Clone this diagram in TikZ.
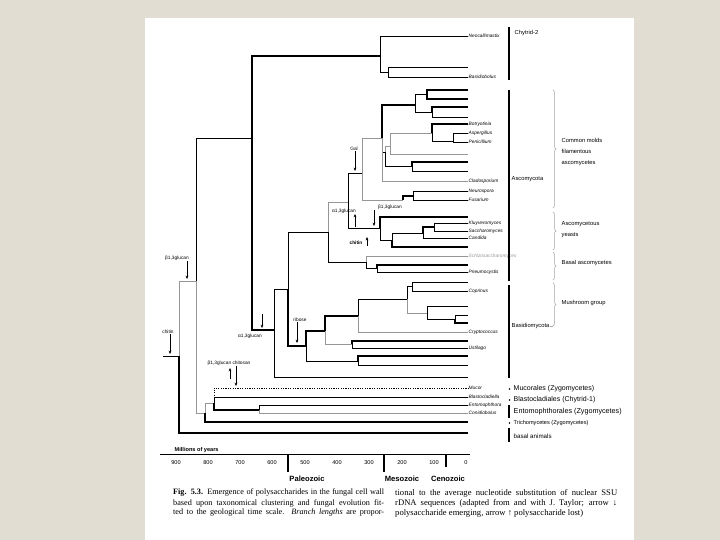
\documentclass[tikz,border=0pt]{standalone}
\usepackage{fontspec}
\setmainfont{Liberation Serif}
\setsansfont{Liberation Sans}
\usetikzlibrary{arrows.meta,decorations.pathreplacing}
\definecolor{linen}{RGB}{226,221,211}
\definecolor{treegrey}{RGB}{150,150,150}
\definecolor{bracegrey}{RGB}{165,165,165}

\begin{document}
\begin{tikzpicture}[x=1pt,y=-1pt]
		\useasboundingbox (0,0) rectangle (720,540);
		\fill[linen] (0,0) rectangle (720,540);
		\fill[white] (145,18) rectangle (634,540);

		\begin{scope}
			[
				leaf/.style={anchor=west, inner sep=0.5pt,
					font=\sffamily\itshape\fontsize{4.8}{5}\selectfont},
				ps/.style={inner sep=0.5pt, font=\sffamily\fontsize{4.8}{5}\selectfont},
				grp/.style={anchor=west, inner sep=0.5pt, align=left,
					font=\sffamily\fontsize{5.8}{11}\selectfont},
				low/.style={anchor=west, inner sep=0.5pt,
					font=\sffamily\fontsize{#1}{#1}\selectfont},
				captxt/.style={anchor=west, inner sep=0pt,
					font=\fontsize{#1}{9}\selectfont},
			]
			% tree: internal nodes sit on their stem
			\coordinate (rs) at (163,356);
			\coordinate (root) at (179,356);
			\coordinate (fungi) at (196,281);
			\coordinate (anim) at (468,433);
			\coordinate (dikar) at (252,138);
			\coordinate (zygo) at (205,413);

			\coordinate (chyt) at (380,56);
			\node(neo)[leaf] at (468,36) {Neocallimastix};
			\coordinate (basb) at (388,72);
			\coordinate (ch1) at (468,67);
			\node(bsb)[leaf] at (468,77) {Basidiobolus};

			\coordinate (asba) at (274,330);
			\coordinate (ab) at (288,289);
			\coordinate (lx) at (468,377);
			\coordinate (asco) at (328,232);
			\coordinate (basi) at (306,346);

			\coordinate (pez) at (348,202);
			\coordinate (tap) at (366,262);
			\coordinate (fil) at (362,173);
			\coordinate (yst) at (380,228);
			\coordinate (core) at (382,138);
			\coordinate (sordb) at (403,200);
			\coordinate (sord) at (413,196);
			\node(neu)[leaf] at (468,191) {Neurospora};
			\node(fus)[leaf] at (468,200) {Fusarium};

			\coordinate (c1) at (415,105);
			\coordinate (c1a) at (427,94);
			\coordinate (a1) at (468,90);
			\coordinate (a2) at (468,99);
			\coordinate (c1b) at (432,112);
			\coordinate (a3) at (468,107);
			\coordinate (a4) at (468,117);
			\coordinate (core2) at (385,152);
			\coordinate (c2) at (390,146);
			\coordinate (c2a) at (432,133);
			\node(bot)[leaf] at (468,124) {Botryotinia};
			\coordinate (c2b) at (453,141);
			\node(asp)[leaf] at (468,133) {Aspergillus};
			\node(pen)[leaf] at (468,142) {Penicillium};
			\coordinate (a5) at (468,154);
			\coordinate (c3) at (412,166);
			\coordinate (a6) at (468,162);
			\coordinate (a7) at (468,171);
			\node(cla)[leaf] at (468,181) {Cladosporium};

			\coordinate (a8) at (468,217);
			\coordinate (yst2) at (392,240);
			\coordinate (kl) at (423,233);
			\coordinate (ks) at (434,227);
			\node(klu)[leaf] at (468,223) {Kluyveromyces};
			\node(sac)[leaf] at (468,231) {Saccharomyces};
			\node(can)[leaf] at (468,238) {Candida};
			\coordinate (a9) at (468,247);

			\node(sch)[leaf, text=treegrey] at (468,256) {Schizosaccharomyces};
			\coordinate (tap2) at (377,268);
			\coordinate (a10) at (468,265);
			\node(pne)[leaf] at (468,272) {Pneumocystis};

			\coordinate (b1) at (325,331);
			\coordinate (b2) at (358,316);
			\coordinate (b3) at (407,299);
			\coordinate (b3a) at (412,286);
			\coordinate (a11) at (468,282);
			\node(cop)[leaf] at (468,291) {Coprinus};
			\coordinate (b3b) at (427,313);
			\coordinate (a12) at (468,306);
			\coordinate (b3c) at (455,319);
			\coordinate (a13) at (468,315);
			\coordinate (a14) at (468,323);
			\node(cry)[leaf] at (468,332) {Cryptococcus};
			\coordinate (b4) at (352,344);
			\coordinate (a15) at (468,341);
			\node(ust)[leaf] at (468,348) {Ustilago};
			\coordinate (b5) at (358,361);
			\coordinate (a16) at (468,356);
			\coordinate (a17) at (468,365);

			\coordinate (zyg1) at (214,403);
			\node(muc)[leaf] at (468,388) {Mucor};
			\node(bla)[leaf] at (468,397) {Blastocladiella};
			\coordinate (ento) at (259,410);
			\node(ent)[leaf] at (468,405) {Entomophthora};
			\node(con)[leaf] at (468,413) {Conidiobolus};
			\coordinate (tri) at (468,422);

			% polysaccharide marks
			\node(pb1)[ps] at (177,258) {β1,3glucan};
			\coordinate (pb1t) at (187,279);
			\node(pch)[ps] at (168,332) {chitin};
			\coordinate (pcht) at (170,354);
			\node(pa1)[ps] at (250,336) {α1,3glucan};
			\coordinate (pa1s) at (262,314);
			\coordinate (pa1t) at (262,328);
			\node(prb)[ps] at (300,320) {ribose};
			\coordinate (prbt) at (297,343);
			\node(pgal)[ps] at (354,149) {Gal};
			\coordinate (pgalt) at (355,171);
			\node(pa2)[ps, fill=white] at (344,211) {α1,3glucan};
			\coordinate (pa2s) at (355,227);
			\node(pb2)[ps] at (390,207) {β1,3glucan};
			\coordinate (pb2t) at (374,226);
			\node(pch2)[ps, font=\sffamily\bfseries\fontsize{4.8}{5}\selectfont] at (356,243) {chitin};
			\coordinate (pch2s) at (367,246);
			\coordinate (pch2t) at (367,237);
			\node(pgc)[ps] at (229,363) {β1,3glucan chitosan};
			\coordinate (pgcs) at (230,379);
			\coordinate (pgct) at (230,368);
			\coordinate (pgc2t) at (236,386);

			% groups on the right
			\node(gch2)[grp] at (514,33) {Chytrid-2};
			\node(gasc)[grp] at (511,179) {Ascomycota};
			\node(gbas)[grp] at (511,326) {Basidiomycota};
			\node(gmol)[grp] at (561,152) {Common molds\\filamentous\\ascomycetes};
			\node(gyst)[grp] at (561,230) {Ascomycetous\\yeasts};
			\node(gbal)[grp] at (561,263) {Basal ascomycetes};
			\node(gmsh)[grp] at (561,303) {Mushroom group};
			\coordinate (mshend) at (553,326);

			\node(gmuc)[low=7] at (513,389) {Mucorales (Zygomycetes)};
			\node(gbla)[low=7] at (513,400) {Blastocladiales (Chytrid-1)};
			\node(gent)[low=7.2] at (513,412) {Entomophthorales (Zygomycetes)};
			\node(gtri)[low=5.6] at (513,423) {Trichomycetes (Zygomycetes)};
			\node(gani)[low=6.2] at (513,436) {basal animals};

			% time scale
			\coordinate (t0) at (160,454);
			\coordinate (t1) at (470,454);
			\node(myr)[anchor=south west, inner sep=0.5pt,
				font=\sffamily\bfseries\fontsize{5.6}{6}\selectfont] at (174,453) {Millions of years};
			\node(y900)[low=5.6, anchor=center] at (176,463) {900};
			\node(y800)[low=5.6, anchor=center] at (208,463) {800};
			\node(y700)[low=5.6, anchor=center] at (240,463) {700};
			\node(y600)[low=5.6, anchor=center] at (272,463) {600};
			\node(y500)[low=5.6, anchor=center] at (305,463) {500};
			\node(y400)[low=5.6, anchor=center] at (337,463) {400};
			\node(y300)[low=5.6, anchor=center] at (369,463) {300};
			\node(y200)[low=5.6, anchor=center] at (402,463) {200};
			\node(y100)[low=5.6, anchor=center] at (434,463) {100};
			\node(y0)[low=5.6, anchor=center] at (466,463) {0};
			\node(pal)[anchor=center, font=\sffamily\bfseries\fontsize{7.6}{8}\selectfont] at (307,479) {Paleozoic};
			\node(mes)[anchor=center, font=\sffamily\bfseries\fontsize{7.6}{8}\selectfont] at (402,479) {Mesozoic};
			\node(cen)[anchor=center, font=\sffamily\bfseries\fontsize{7.6}{8}\selectfont] at (448,479) {Cenozoic};

			% caption
			\node(cap1)[captxt=8.2] at (173,493) {\makebox[211pt][s]{\textbf{Fig. 5.3.} Emergence of polysaccharides in the fungal cell wall}};
			\node(cap2)[captxt=8.2] at (173,503) {\makebox[211pt][s]{based upon taxonomical clustering and fungal evolution fit-}};
			\node(cap3)[captxt=8.2] at (173,513) {\makebox[211pt][s]{ted to the geological time scale. \textit{Branch lengths} are propor-}};
			\node(cap4)[captxt=8.6] at (395,493) {\makebox[222pt][s]{tional to the average nucleotide substitution of nuclear SSU}};
			\node(cap5)[captxt=8.6] at (395,503) {\makebox[222pt][s]{rDNA sequences (adapted from and with J. Taylor; arrow ↓}};
			\node(cap6)[captxt=8.6] at (395,513) {polysaccharide emerging, arrow ↑ polysaccharide lost)};
		\end{scope}

		\begin{scope}
			[
				elbow/.style={to path={|- (\tikztotarget)}},
				bra/.style={elbow, draw, line width=0.6pt},
				brk/.style={elbow, draw, line width=1.3pt},
				brg/.style={elbow, draw=treegrey, line width=0.6pt},
				brd/.style={elbow, draw, line width=0.6pt, dash pattern=on 1.2pt off 1.2pt},
				gain/.style={-{Stealth[length=3.4pt,width=2.8pt]}, line width=0.45pt},
				brc/.style={decorate, decoration={brace,amplitude=3pt}, draw=bracegrey, line width=0.5pt},
				sidebar/.style={line width=1.5pt},
			]
			\path
			(rs) edge[bra] (root)
			(root) edge[brg] (fungi)
			(root) edge[brk] (anim)
			(fungi) edge[bra] (dikar)
			(fungi) edge[brg] (zygo)
			(dikar) edge[brk] (chyt)
			(dikar) edge[brk] (asba)
			(chyt) edge[bra] (neo.west)
			(chyt) edge[bra] (basb)
			(basb) edge[bra] (ch1)
			(basb) edge[bra] (bsb.west)
			(asba) edge[bra] (ab)
			(asba) edge[bra] (lx)
			(ab) edge[bra] (asco)
			(ab) edge[brk] (basi)

			(asco) edge[brg] (pez)
			(asco) edge[bra] (tap)
			(pez) edge[bra] (fil)
			(pez) edge[bra] (yst)
			(fil) edge[brg] (core)
			(fil) edge[brg] (sordb)
			(sordb) edge[brk] (sord)
			(sord) edge[bra] (neu.west)
			(sord) edge[bra] (fus.west)
			(core) edge[brk] (c1)
			(core) edge[bra] (core2)
			(core) edge[brg] (cla.west)
			(core2) edge[brg] (c2)
			(core2) edge[bra] (c3)
			(c1) edge[bra] (c1a)
			(c1) edge[bra] (c1b)
			(c1a) edge[brk] (a1)
			(c1a) edge[brk] (a2)
			(c1b) edge[brk] (a3)
			(c1b) edge[bra] (a4)
			(c2) edge[brg] (c2a)
			(c2) edge[brg] (a5)
			(c2a) edge[brk] (bot.west)
			(c2a) edge[bra] (c2b)
			(c2b) edge[bra] (asp.west)
			(c2b) edge[bra] (pen.west)
			(c3) edge[brk] (a6)
			(c3) edge[bra] (a7)
			(yst) edge[brk] (a8)
			(yst) edge[bra] (yst2)
			(yst2) edge[bra] (kl)
			(yst2) edge[brk] (a9)
			(kl) edge[brk] (ks)
			(kl) edge[bra] (can.west)
			(ks) edge[bra] (klu.west)
			(ks) edge[bra] (sac.west)
			(tap) edge[brg] (sch.west)
			(tap) edge[bra] (tap2)
			(tap2) edge[brk] (a10)
			(tap2) edge[bra] (pne.west)

			(basi) edge[brk] (b1)
			(basi) edge[bra] (b5)
			(b1) edge[brk] (b2)
			(b1) edge[brg] (b4)
			(b2) edge[bra] (b3)
			(b2) edge[brg] (cry.west)
			(b3) edge[bra] (b3a)
			(b3) edge[brg] (b3b)
			(b3a) edge[bra] (a11)
			(b3a) edge[bra] (cop.west)
			(b3b) edge[bra] (a12)
			(b3b) edge[bra] (b3c)
			(b3c) edge[bra] (a13)
			(b3c) edge[brk] (a14)
			(b4) edge[brk] (a15)
			(b4) edge[bra] (ust.west)
			(b5) edge[brk] (a16)
			(b5) edge[bra] (a17)

			(zygo) edge[brg] (zyg1)
			(zygo) edge[brk] (tri)
			(zyg1) edge[brd] (muc.west)
			(zyg1) edge[bra] (bla.west)
			(zyg1) edge[brk] (ento)
			(ento) edge[bra] (ent.west)
			(ento) edge[brg] (con.west);

			% arrows: down = emerging, up = lost
			\draw[gain] (pb1.south -| pb1t) -- (pb1t);
			\draw[gain] (pch.south -| pcht) -- (pcht);
			\draw[gain] (pa1s) -- (pa1t);
			\draw[gain] (prb.south -| prbt) -- (prbt);
			\draw[gain] (pgal.south -| pgalt) -- (pgalt);
			\draw[gain] (pa2s) -- (pa2.south -| pa2s);
			\draw[gain] (pb2.south -| pb2t) -- (pb2t);
			\draw[gain] (pch2s) -- (pch2t);
			\draw[gain] (pgcs) -- (pgct);
			\draw[gain] (pgc.south -| pgc2t) -- (pgc2t);

			% side bars and braces
			\draw[sidebar] (509,27) -- (509,80);
			\draw[sidebar] (509,90) -- (509,281);
			\draw[sidebar] (509,285) -- (509,378);
			\draw[sidebar] (509,405) -- (509,418);
			\draw[sidebar] (509,428) -- (509,442);
			\fill (509.5,389) circle (0.9);
			\fill (509.5,400) circle (0.9);
			\fill (509.5,423) circle (0.9);
			\draw[brc] (553,90) -- (553,208);
			\draw[brc] (553,212) -- (553,250);
			\draw[brc] (553,252) -- (553,280);
			\draw[brc] (553,283) -- (mshend);
			\draw[bracegrey, line width=0.5pt] (gbas.east) -- (mshend);

			% time scale
			\draw[line width=0.8pt] (t0) -- (t1);
			\draw[line width=1.1pt] (288,455) -- (288,472);
			\draw[line width=1.1pt] (384,455) -- (384,472);
			\draw[line width=1.1pt] (446,455) -- (446,467);
		\end{scope}
	\end{tikzpicture}
\end{document}
